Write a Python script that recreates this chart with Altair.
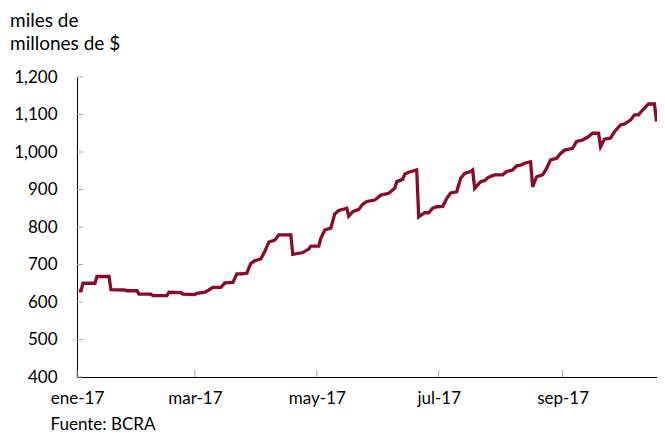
import altair as alt
import pandas as pd

# Stock (miles de millones de $)
fechas = [
    "2017-01-02", "2017-01-03", "2017-01-04", "2017-01-10", "2017-01-11", "2017-01-17",
    "2017-01-18", "2017-01-25", "2017-01-26", "2017-01-31", "2017-02-01", "2017-02-07",
    "2017-02-08", "2017-02-15", "2017-02-16", "2017-02-22", "2017-02-23", "2017-03-01",
    "2017-03-02", "2017-03-06", "2017-03-08", "2017-03-10", "2017-03-14", "2017-03-16",
    "2017-03-20", "2017-03-22", "2017-03-24", "2017-03-27", "2017-03-29", "2017-03-31",
    "2017-04-03", "2017-04-05", "2017-04-07", "2017-04-10", "2017-04-12", "2017-04-18",
    "2017-04-19", "2017-04-24", "2017-04-27", "2017-04-28", "2017-05-02", "2017-05-03",
    "2017-05-05", "2017-05-08", "2017-05-10", "2017-05-12", "2017-05-16", "2017-05-17",
    "2017-05-19", "2017-05-22", "2017-05-24", "2017-05-26", "2017-05-30", "2017-05-31",
    "2017-06-02", "2017-06-06", "2017-06-09", "2017-06-10", "2017-06-13", "2017-06-14",
    "2017-06-16", "2017-06-20", "2017-06-21", "2017-06-24", "2017-06-26", "2017-06-28",
    "2017-06-30", "2017-07-03", "2017-07-05", "2017-07-07", "2017-07-10", "2017-07-12",
    "2017-07-14", "2017-07-17", "2017-07-18", "2017-07-19", "2017-07-22", "2017-07-24",
    "2017-07-26", "2017-07-29", "2017-08-02", "2017-08-04", "2017-08-07", "2017-08-09",
    "2017-08-11", "2017-08-13", "2017-08-16", "2017-08-17", "2017-08-19", "2017-08-22",
    "2017-08-24", "2017-08-26", "2017-08-29", "2017-08-31", "2017-09-02", "2017-09-06",
    "2017-09-08", "2017-09-11", "2017-09-14", "2017-09-16", "2017-09-19", "2017-09-20",
    "2017-09-22", "2017-09-25", "2017-09-27", "2017-09-30", "2017-10-02", "2017-10-05",
    "2017-10-07", "2017-10-09", "2017-10-11", "2017-10-14", "2017-10-17", "2017-10-18",
]
valores = [
    630, 630, 650, 650, 668, 668,
    633, 632, 630, 630, 621, 621,
    617, 617, 626, 625, 621, 620,
    623, 626, 632, 639, 639, 651,
    652, 675, 675, 677, 703, 710,
    715, 735, 760, 765, 779, 779,
    727, 732, 741, 749, 749, 770,
    792, 797, 835, 844, 850, 829,
    841, 847, 861, 868, 872, 876,
    885, 890, 903, 921, 927, 941,
    946, 952, 827, 838, 838, 850,
    854, 855, 876, 891, 894, 930,
    943, 948, 952, 903, 921, 924,
    933, 939, 939, 948, 952, 963,
    965, 970, 974, 907, 934, 939,
    956, 979, 983, 996, 1005, 1010,
    1028, 1032, 1041, 1050, 1050, 1014,
    1034, 1037, 1054, 1072, 1075, 1085,
    1099, 1099, 1112, 1128, 1128, 1081,
]

y_ticks = [400, 500, 600, 700, 800, 900, 1000, 1100, 1200]
x_tick_dates = ["2017-01-01", "2017-03-01", "2017-05-01", "2017-07-01", "2017-09-01"]
meses = ["ene", "feb", "mar", "abr", "may", "jun", "jul", "ago", "sep", "oct", "nov", "dic"]

df = pd.DataFrame({"fecha": fechas, "valor": valores})
df_yt = pd.DataFrame({"v": y_ticks})
df_xt = pd.DataFrame({"d": x_tick_dates})

FONT = "Lato"
LINE_COLOR = "#8B0A2B"
TICK_COLOR = "#A6A6A6"

x_values = [alt.DateTime(year=2017, month=m, date=1, utc=True) for m in (1, 3, 5, 7, 9)]
x_scale = alt.Scale(
    type="utc",
    domain=[alt.DateTime(year=2017, month=1, date=1, utc=True),
            alt.DateTime(year=2017, month=10, date=18, hours=6, utc=True)],
)
y_scale = alt.Scale(domain=[400, 1200], nice=False, zero=False)

label_expr = (
    "[" + ",".join("'%s'" % m for m in meses) + "][utcmonth(datum.value)]"
    " + '-' + utcFormat(datum.value, '%y')"
)

x_axis = alt.Axis(
    values=x_values,
    labelExpr=label_expr,
    ticks=False,
    tickSize=0,
    grid=False,
    domainColor="black",
    domainWidth=1,
    labelFont=FONT,
    labelFontSize=17,
    labelColor="black",
    labelPadding=26,
    labelBaseline="alphabetic",
    labelFlush=False,
    labelOverlap=False,
    title="Fuente: BCRA",
    titleFont=FONT,
    titleFontSize=17,
    titleFontWeight="normal",
    titleColor="black",
    titleAlign="left",
    titleBaseline="alphabetic",
    titleX=-27,
    titleY=52,
)
y_axis = alt.Axis(
    values=y_ticks,
    format=",.0f",
    ticks=False,
    tickSize=0,
    grid=False,
    domainColor="black",
    domainWidth=1,
    labelFont=FONT,
    labelFontSize=17,
    labelColor="black",
    labelPadding=20,
    title=None,
)

line = alt.Chart(df).mark_line(color=LINE_COLOR, strokeWidth=3.3, strokeJoin="miter").encode(
    x=alt.X("fecha:T", scale=x_scale, axis=x_axis),
    y=alt.Y("valor:Q", scale=y_scale, axis=y_axis),
)

y_tick_marks = alt.Chart(df_yt).mark_rule(color=TICK_COLOR, strokeWidth=1).encode(
    y=alt.Y("v:Q", scale=y_scale, axis=y_axis),
    x=alt.value(0),
    x2=alt.value(6),
)

x_tick_marks = alt.Chart(df_xt).mark_rule(color=TICK_COLOR, strokeWidth=1).encode(
    x=alt.X("d:T", scale=x_scale, axis=x_axis),
    y=alt.value(300),
    y2=alt.value(293),
)

chart = alt.layer(y_tick_marks, x_tick_marks, line).properties(
    width=580,
    height=300,
    autosize=alt.AutoSizeParams(type="none"),
    padding={"left": 69, "top": 69, "right": 0, "bottom": 56},
    title=alt.TitleParams(
        text=["miles de", "millones de $"],
        anchor="start",
        frame="group",
        align="left",
        baseline="top",
        font=FONT,
        fontSize=19,
        fontWeight="normal",
        color="black",
        lineHeight=23,
        offset=0,
        dx=-67,
        dy=-14,
    ),
).configure_view(stroke=None)

chart.save("out.html", embed_options={"renderer": "svg", "actions": False})
